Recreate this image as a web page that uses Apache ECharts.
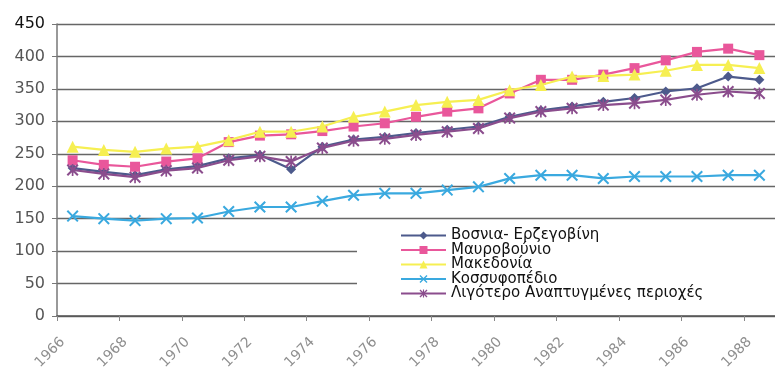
<!DOCTYPE html>
<html><head><meta charset="utf-8">
<script src="https://cdn.jsdelivr.net/npm/echarts@6/dist/echarts.min.js"></script>
<style>html,body{margin:0;padding:0;background:#fff}#c{width:775px;height:373px}</style>
</head><body><div id="c"></div>
<script>
const years = ['1966','1967','1968','1969','1970','1971','1972','1973','1974','1975','1976','1977','1978','1979','1980','1981','1982','1983','1984','1985','1986','1987','1988'];
const seriesNames = ['Βοσνια- Ερζεγοβίνη','Μαυροβούνιο','Μακεδονία','Κοσσυφοπέδιο','Λιγότερο Αναπτυγμένες περιοχές'];
const bosnia     = [228,222,217,226,231,243,248,226,261,272,276,282,287,292,307,317,323,330,336,346,351,369,364];
const montenegro = [240,233,230,238,243,268,278,280,285,292,297,307,315,320,343,364,364,372,382,394,407,412,402];
const macedonia  = [261,256,253,258,261,271,284,284,292,307,315,325,330,333,348,356,369,370,372,378,387,387,382];
const kosovo     = [154,150,147,150,151,161,168,168,177,186,189,189,194,199,212,217,217,212,215,215,215,217,217];
const lessDev    = [225,219,214,224,228,240,246,238,259,270,273,279,284,289,305,315,320,325,328,333,341,346,343];

const X = 'path://M0,1.2L1.2,0L5,3.8L8.8,0L10,1.2L6.2,5L10,8.8L8.8,10L5,6.2L1.2,10L0,8.8L3.8,5Z';
const AST = 'path://M0,1.2L1.2,0L5,3.8L8.8,0L10,1.2L6.2,5L10,8.8L8.8,10L5,6.2L1.2,10L0,8.8L3.8,5Z M4.3,0L5.7,0L5.7,10L4.3,10Z';

const colors = ['#4d5a8c','#e9579b','#f6ef52','#3aa9df','#8b4d8d'];
const symbols = ['diamond','rect','triangle',X,AST];
const sizes = [10,10,12,12,12];
const datas = [bosnia, montenegro, macedonia, kosovo, lessDev];

const chart = echarts.init(document.getElementById('c'));
chart.setOption({
  animation:false,
  grid:{left:57,top:24,bottom:57,right:-4},
  xAxis:{type:'category',data:years,boundaryGap:true,
    axisLine:{lineStyle:{color:'#555',width:1.5}},
    axisTick:{show:true,lineStyle:{color:'#888'}},
    axisLabel:{interval:1,rotate:45,color:'#8f8f8f',fontSize:14,fontFamily:'DejaVu Sans',margin:14,padding:[0,14,0,0]},
    splitLine:{show:false}},
  yAxis:{type:'value',min:0,max:450,interval:50,
    axisLine:{show:true,lineStyle:{color:'#777',width:1.5}},
    axisTick:{show:true,lineStyle:{color:'#777'}},
    axisLabel:{fontSize:16,fontFamily:'DejaVu Sans',margin:12,
      color:function(v){return Number(v)===450?'#111':'#555';}},
    splitLine:{lineStyle:{color:'#666',width:1.3}}},
  legend:{orient:'vertical',left:357,top:222,z:10,
    padding:[6,130,3,43],itemGap:-0.5,itemWidth:45,itemHeight:10,
    backgroundColor:'#fff',
    textStyle:{fontSize:15,lineHeight:14,color:'#111',fontFamily:'DejaVu Sans'},
    data:seriesNames},
  series: seriesNames.map((n,i)=>({
    name:n,type:'line',data:datas[i],
    symbol:symbols[i],symbolSize:sizes[i],showSymbol:true,
    lineStyle:{color:colors[i],width:2.2},
    itemStyle:{color:colors[i]},
    z:2+i
  }))
});
</script></body></html>
